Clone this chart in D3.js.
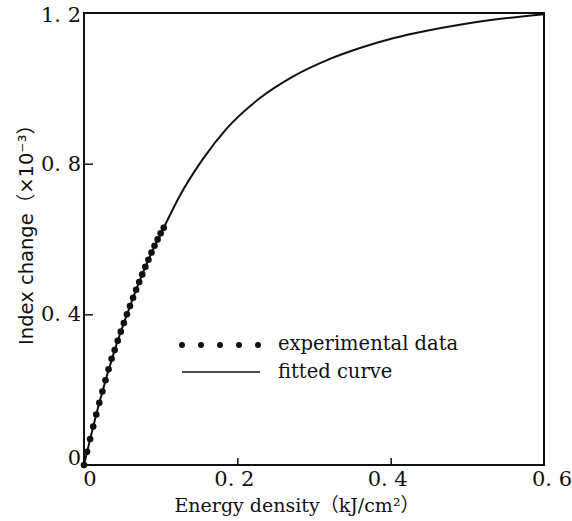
<!DOCTYPE html>
<html>
<head>
<meta charset="utf-8">
<style>
body { margin: 0; background: #fff; }
svg { display: block; }
.tick-label { font-family: "DejaVu Serif", serif; font-size: 21px; fill: #111; }
.legend text { font-family: "DejaVu Serif", serif; font-size: 19.5px; fill: #111; }
</style>
</head>
<body>
<svg width="572" height="521"></svg>
<script src="https://cdn.jsdelivr.net/npm/d3@7"></script>
<script>
// experimental points (energy density kJ/cm2, index change x1e-3)
var expX = [0, 0.004, 0.008, 0.012, 0.016, 0.020, 0.024, 0.028, 0.032, 0.036, 0.040, 0.044, 0.048, 0.052,
            0.056, 0.060, 0.064, 0.068, 0.072, 0.076, 0.080, 0.084, 0.088, 0.092, 0.096, 0.100, 0.104];
var expY = [0, 0.035, 0.069, 0.102, 0.134, 0.165, 0.195, 0.225, 0.254, 0.282, 0.305, 0.330, 0.354, 0.377,
            0.400, 0.422, 0.444, 0.465, 0.486, 0.506, 0.526, 0.545, 0.564, 0.582, 0.599, 0.615, 0.630];

// fitted curve
var fitX = [0, 0.02, 0.04, 0.06, 0.08, 0.104, 0.125, 0.155, 0.186, 0.23, 0.273, 0.317, 0.36, 0.403, 0.447, 0.49, 0.533, 0.6];
var fitY = [0, 0.165, 0.305, 0.422, 0.526, 0.630, 0.715, 0.812, 0.893, 0.975, 1.032, 1.075, 1.107, 1.133, 1.153, 1.169, 1.182, 1.197];

var xTicks = [0, 0.2, 0.4, 0.6];
var yTicks = [0, 0.4, 0.8, 1.2];
var tickFmt = function(v) { return v === 0 ? "0" : d3.format(".1f")(v).replace(".", ". "); };

var svg = d3.select("svg");
var plotL = 84, plotR = 544, plotT = 13, plotB = 465;

var x = d3.scaleLinear().domain([0, 0.6]).range([plotL, plotR]);
var y = d3.scaleLinear().domain([0, 1.2]).range([plotB, plotT]);

// frame
svg.append("rect")
    .attr("x", plotL).attr("y", plotT)
    .attr("width", plotR - plotL).attr("height", plotB - plotT)
    .attr("fill", "none").attr("stroke", "#111").attr("stroke-width", 2);

// x axis: inward ticks, labels below
var xAxis = svg.append("g")
    .attr("transform", "translate(0," + plotB + ")")
    .call(d3.axisTop(x).tickValues(xTicks.slice(1, 3)).tickSize(7).tickFormat(""));
xAxis.select(".domain").remove();
xAxis.selectAll("line").attr("stroke", "#111").attr("stroke-width", 1.5);

svg.append("g").selectAll("text")
    .data(xTicks)
  .enter().append("text")
    .attr("class", "tick-label")
    .attr("x", function(d) { return x(d) + (d === 0 ? 6 : d === 0.6 ? 8 : -3); })
    .attr("y", 486)
    .attr("text-anchor", "middle")
    .text(tickFmt);

// y axis: inward ticks, labels left
var yAxis = svg.append("g")
    .attr("transform", "translate(" + plotL + ",0)")
    .call(d3.axisRight(y).tickValues(yTicks.slice(1, 3)).tickSize(9).tickFormat(""));
yAxis.select(".domain").remove();
yAxis.selectAll("line").attr("stroke", "#111").attr("stroke-width", 1.5);

svg.append("g").selectAll("text")
    .data(yTicks)
  .enter().append("text")
    .attr("class", "tick-label")
    .attr("x", 81)
    .attr("y", function(d) { return y(d) + (d === 0 ? 0 : d === 1.2 ? 9 : 7); })
    .attr("text-anchor", "end")
    .text(tickFmt);

// axis titles
svg.append("text")
    .attr("x", 297).attr("y", 512)
    .attr("text-anchor", "middle")
    .style("font-family", "'DejaVu Serif', 'Noto Sans CJK SC', serif")
    .style("font-size", "19px")
    .attr("fill", "#111")
    .text("Energy density（kJ/cm²）");

svg.append("text")
    .attr("transform", "translate(33,230) rotate(-90)")
    .attr("text-anchor", "middle")
    .style("font-family", "'DejaVu Sans', 'Noto Sans CJK SC', sans-serif")
    .style("font-size", "19.5px")
    .attr("fill", "#111")
    .text("Index change（×10⁻³）");

// fitted curve
var fitData = fitX.map(function(v, i) { return [v, fitY[i]]; });
svg.append("path")
    .datum(fitData)
    .attr("fill", "none")
    .attr("stroke", "#111")
    .attr("stroke-width", 2)
    .attr("d", d3.line()
        .x(function(d) { return x(d[0]); })
        .y(function(d) { return y(d[1]); })
        .curve(d3.curveMonotoneX));

// experimental dots
var expData = expX.map(function(v, i) { return [v, expY[i]]; });
svg.append("g").selectAll("circle")
    .data(expData)
  .enter().append("circle")
    .attr("cx", function(d) { return x(d[0]); })
    .attr("cy", function(d) { return y(d[1]); })
    .attr("r", 3.3)
    .attr("fill", "#111");

// legend
var legend = svg.append("g").attr("class", "legend");
legend.selectAll("circle")
    .data([182, 201, 220, 239, 258])
  .enter().append("circle")
    .attr("cx", function(d) { return d; })
    .attr("cy", 345)
    .attr("r", 3)
    .attr("fill", "#111");
legend.append("text").attr("x", 278).attr("y", 350).text("experimental data");
legend.append("line")
    .attr("x1", 182).attr("x2", 260)
    .attr("y1", 372).attr("y2", 372)
    .attr("stroke", "#111").attr("stroke-width", 1.6);
legend.append("text").attr("x", 278).attr("y", 378).text("fitted curve");
</script>
</body>
</html>
